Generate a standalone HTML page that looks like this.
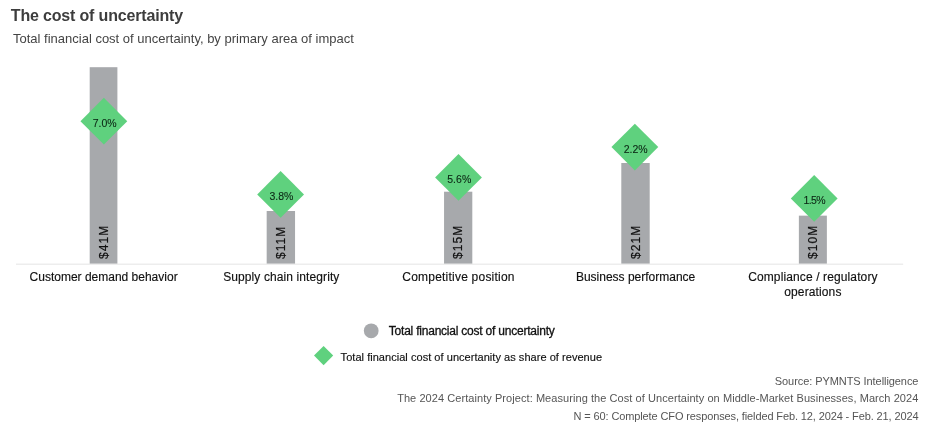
<!DOCTYPE html>
<html lang="en">
<head>
<meta charset="utf-8">
<title>The cost of uncertainty</title>
<style>
html,body{margin:0;padding:0;background:#fff;}
body{width:930px;height:436px;position:relative;overflow:hidden;font-family:"Liberation Sans",sans-serif;color:#222;}
.t{position:absolute;white-space:nowrap;line-height:1;margin:0;padding:0;}
.title{left:10.8px;top:8px;font-size:16px;font-weight:bold;color:#3d3d3d;letter-spacing:-0.17px;}
.sub{left:13px;top:31.7px;font-size:13px;color:#444;}
.shapes{position:absolute;left:0;top:0;}
.pct{position:absolute;transform:translate(-50%,-50%);font-size:10.5px;color:#0b2614;-webkit-text-stroke:0.1px #0b2614;white-space:nowrap;line-height:1;}
.val{position:absolute;font-size:12px;letter-spacing:1.05px;color:#111;-webkit-text-stroke:0.2px #111;white-space:nowrap;line-height:1;transform-origin:0 0;transform:rotate(-90deg);}
.cat{position:absolute;top:270px;font-size:12px;line-height:15px;color:#111;-webkit-text-stroke:0.15px #111;text-align:center;transform:translateX(-50%);white-space:nowrap;}
.leg{position:absolute;white-space:nowrap;line-height:1;color:#222;}
.foot{position:absolute;right:11.6px;white-space:nowrap;line-height:1;font-size:11px;color:#555;text-align:right;}
</style>
</head>
<body>
<div class="t title" id="title">The cost of uncertainty</div>
<div class="t sub" id="sub">Total financial cost of uncertainty, by primary area of impact</div>

<svg class="shapes" width="930" height="436" viewBox="0 0 930 436">
<rect x="16" y="263.7" width="887.2" height="0.9" fill="#e2e2e2"/>
<rect x="89.70" y="67.20" width="27.70" height="196.40" fill="#a7a9ac"/>
<rect x="266.67" y="211.00" width="28.38" height="52.60" fill="#a7a9ac"/>
<rect x="444.05" y="191.70" width="28.25" height="71.90" fill="#a7a9ac"/>
<rect x="621.30" y="163.00" width="28.40" height="100.60" fill="#a7a9ac"/>
<rect x="798.87" y="215.65" width="28.00" height="47.95" fill="#a7a9ac"/>
<path d="M103.85 97.80L127.25 121.20L103.85 144.60L80.45 121.20Z" fill="#5fd17e"/>
<path d="M280.60 171.05L304.00 194.45L280.60 217.85L257.20 194.45Z" fill="#5fd17e"/>
<path d="M458.50 154.00L481.90 177.40L458.50 200.80L435.10 177.40Z" fill="#5fd17e"/>
<path d="M634.85 123.65L658.25 147.05L634.85 170.45L611.45 147.05Z" fill="#5fd17e"/>
<path d="M814.20 175.00L837.60 198.40L814.20 221.80L790.80 198.40Z" fill="#5fd17e"/>
<circle cx="371.2" cy="330.8" r="7.4" fill="#a7a9ac"/>
<path d="M323.6 346.0L333.20000000000005 355.6L323.6 365.20000000000005L314.0 355.6Z" fill="#5fd17e"/>
</svg>
<div class="val" id="v1" style="left:97.65px;top:258.6px;">$41M</div>
<div class="val" id="v2" style="left:274.96px;top:258.6px;">$11M</div>
<div class="val" id="v3" style="left:452.28px;top:258.6px;">$15M</div>
<div class="val" id="v4" style="left:629.60px;top:258.6px;">$21M</div>
<div class="val" id="v5" style="left:806.97px;top:258.6px;">$10M</div>
<div class="pct" id="p1" style="left:104.60px;top:122.70px;">7.0%</div>
<div class="pct" id="p2" style="left:281.35px;top:195.95px;">3.8%</div>
<div class="pct" id="p3" style="left:459.25px;top:178.90px;">5.6%</div>
<div class="pct" id="p4" style="left:635.60px;top:148.55px;">2.2%</div>
<div class="pct" id="p5" style="left:814.2px;top:199.90px;letter-spacing:-0.6px;">1.5%</div>
<div class="cat" id="c1" style="left:103.6px;">Customer demand behavior</div>
<div class="cat" id="c2" style="left:281.3px;letter-spacing:0.1px;">Supply chain integrity</div>
<div class="cat" id="c3" style="left:458.5px;letter-spacing:0.22px;">Competitive position</div>
<div class="cat" id="c4" style="left:635.6px;">Business performance</div>
<div class="cat" id="c5" style="left:812.9px;letter-spacing:0.12px;">Compliance / regulatory<br>operations</div>

<div class="leg" id="l1" style="left:388.8px;top:325px;font-size:12px;letter-spacing:-0.22px;color:#111;-webkit-text-stroke:0.3px #111;">Total financial cost of uncertainty</div>
<div class="leg" id="l2" style="left:340.6px;top:352px;font-size:11px;letter-spacing:0.04px;color:#111;-webkit-text-stroke:0.15px #111;">Total financial cost of uncertanity as share of revenue</div>

<div class="foot" id="f1" style="top:376px;letter-spacing:-0.07px;">Source: PYMNTS Intelligence</div>
<div class="foot" id="f2" style="top:393px;letter-spacing:0.064px;">The 2024 Certainty Project: Measuring the Cost of Uncertainty on Middle-Market Businesses, March 2024</div>
<div class="foot" id="f3" style="top:411px;letter-spacing:-0.12px;">N = 60: Complete CFO responses, fielded Feb. 12, 2024 - Feb. 21, 2024</div>
</body>
</html>
